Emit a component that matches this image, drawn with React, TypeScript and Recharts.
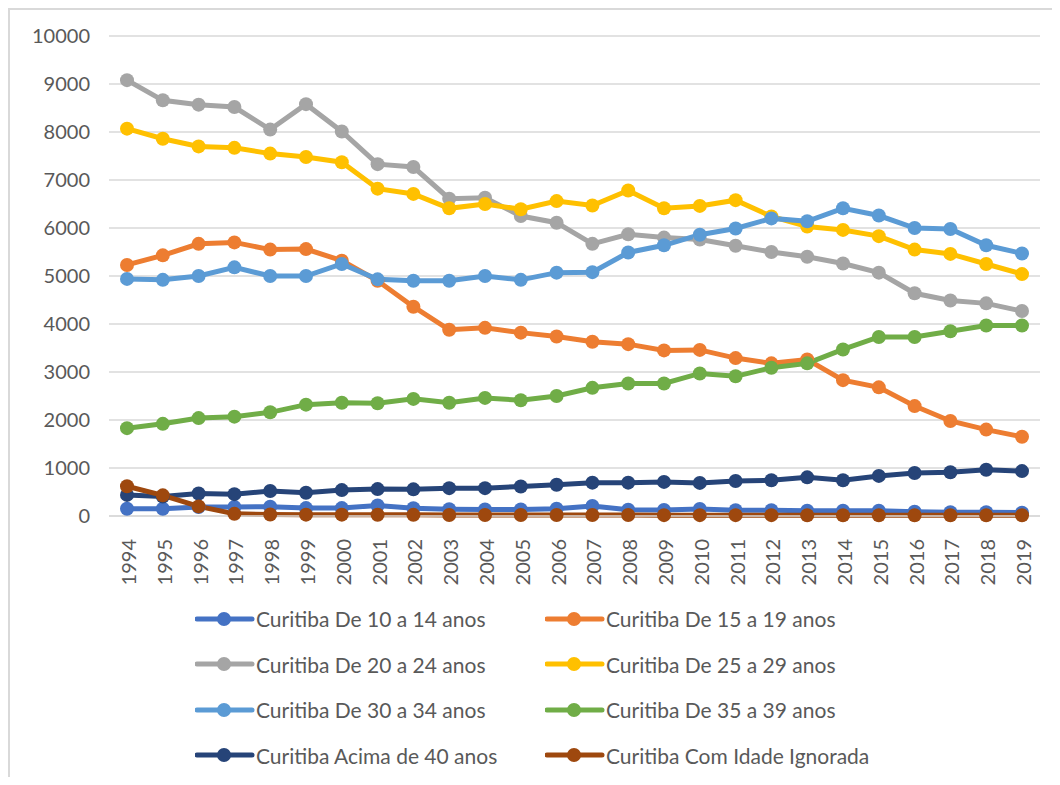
import React from "react";
import { LineChart, Line, XAxis, YAxis, CartesianGrid } from "recharts";

// ─── Data (Curitiba, 1994–2019) ──────────────────────────────────────────────
const years = [
  "1994", "1995", "1996", "1997", "1998", "1999", "2000", "2001", "2002",
  "2003", "2004", "2005", "2006", "2007", "2008", "2009", "2010", "2011",
  "2012", "2013", "2014", "2015", "2016", "2017", "2018", "2019",
];

const de10a14 = [
  150, 150, 185, 190, 195, 165, 165, 220, 160, 140, 135, 135, 150,
  210, 130, 125, 145, 120, 120, 110, 110, 110, 90, 80, 80, 70,
];
const de15a19 = [
  5230, 5430, 5670, 5700, 5550, 5560, 5320, 4900, 4360, 3880, 3920, 3820, 3740,
  3630, 3580, 3450, 3460, 3290, 3180, 3260, 2830, 2680, 2290, 1980, 1800, 1650,
];
const de20a24 = [
  9080, 8660, 8570, 8520, 8050, 8580, 8010, 7330, 7270, 6610, 6630, 6250, 6110,
  5670, 5870, 5800, 5760, 5630, 5500, 5400, 5260, 5070, 4640, 4490, 4430, 4270,
];
const de25a29 = [
  8070, 7860, 7700, 7670, 7550, 7480, 7370, 6820, 6710, 6410, 6500, 6390, 6560,
  6470, 6780, 6410, 6460, 6580, 6240, 6030, 5960, 5830, 5550, 5460, 5250, 5040,
];
const de30a34 = [
  4940, 4920, 5000, 5180, 5000, 5000, 5250, 4930, 4900, 4900, 5000, 4920, 5070,
  5080, 5490, 5640, 5860, 5990, 6200, 6140, 6410, 6260, 6000, 5980, 5640, 5470,
];
const de35a39 = [
  1830, 1920, 2040, 2070, 2160, 2320, 2360, 2350, 2440, 2360, 2460, 2410, 2500,
  2670, 2760, 2760, 2970, 2910, 3090, 3180, 3470, 3730, 3730, 3850, 3970, 3970,
];
const acima40 = [
  440, 405, 470, 455, 520, 485, 540, 560, 555, 580, 580, 615, 650,
  695, 695, 710, 690, 730, 745, 805, 745, 835, 895, 910, 965, 935,
];
const ignorada = [
  620, 430, 200, 45, 30, 28, 28, 26, 24, 22, 22, 20, 20,
  20, 20, 18, 18, 18, 18, 16, 16, 16, 15, 15, 15, 15,
];

const yTicks = [0, 1000, 2000, 3000, 4000, 5000, 6000, 7000, 8000, 9000, 10000];

const SERIES = [
  { key: "a", name: "Curitiba De 10 a 14 anos", values: de10a14, color: "#4472C4" },
  { key: "b", name: "Curitiba De 15 a 19 anos", values: de15a19, color: "#ED7D31" },
  { key: "c", name: "Curitiba De 20 a 24 anos", values: de20a24, color: "#A5A5A5" },
  { key: "d", name: "Curitiba De 25 a 29 anos", values: de25a29, color: "#FFC000" },
  { key: "e", name: "Curitiba De 30 a 34 anos", values: de30a34, color: "#5B9BD5" },
  { key: "f", name: "Curitiba De 35 a 39 anos", values: de35a39, color: "#70AD47" },
  { key: "g", name: "Curitiba Acima de 40 anos", values: acima40, color: "#264478" },
  { key: "h", name: "Curitiba Com Idade Ignorada", values: ignorada, color: "#9E480E" },
];

const data = years.map((year, i) => {
  const row: Record<string, string | number> = { year };
  SERIES.forEach((s) => (row[s.key] = s.values[i]));
  return row;
});

const FONT = "Lato, 'Open Sans', sans-serif";
const TEXT = "#595959";

// rotated year labels (read bottom → top, like Excel)
const YearTick = ({ x, y, payload }: any) => (
  <text
    x={x + 1}
    y={y + 15}
    transform={`rotate(-90, ${x + 1}, ${y + 15})`}
    textAnchor="end"
    dominantBaseline="central"
    fontSize={20}
    fontFamily={FONT}
    fill={TEXT}
  >
    {payload.value}
  </text>
);

function LegendGrid() {
  return (
    <div
      style={{
        position: "absolute",
        left: 185,
        top: 586,
        display: "grid",
        gridTemplateColumns: "350px 350px",
        fontFamily: FONT,
        fontSize: 21,
        color: TEXT,
      }}
    >
      {SERIES.map((s) => (
        <div key={s.key} style={{ display: "flex", alignItems: "center", height: 45.5 }}>
          <svg width={60} height={20} style={{ marginRight: 1 }}>
            <line x1={2} y1={10} x2={57} y2={10} stroke={s.color} strokeWidth={5} strokeLinecap="round" />
            <circle cx={29} cy={10} r={7} fill={s.color} />
          </svg>
          <span>{s.name}</span>
        </div>
      ))}
    </div>
  );
}

export default function App() {
  return (
    <div
      style={{
        position: "relative",
        width: 1044,
        height: 769,
        borderLeft: "2px solid #D9D9D9",
        borderTop: "2px solid #D9D9D9",
        boxSizing: "border-box",
        background: "#fff",
        overflow: "hidden",
      }}
    >
      <LineChart
        width={1040}
        height={590}
        data={data}
        margin={{ top: 26, right: 10, left: 0, bottom: 10 }}
      >
        <CartesianGrid vertical={false} stroke="#D9D9D9" strokeWidth={1.5} />
        <XAxis
          dataKey="year"
          axisLine={{ stroke: "#D9D9D9", strokeWidth: 1.5 }}
          tickLine={false}
          tick={<YearTick />}
          interval={0}
          height={74}
          padding={{ left: 18, right: 18 }}
        />
        <YAxis
          domain={[0, 10000]}
          ticks={yTicks}
          width={99}
          axisLine={false}
          tickLine={false}
          tickSize={0}
          tickMargin={19}
          tick={{ fontSize: 20, fontFamily: FONT, fill: TEXT }}
        />
        {SERIES.map((s) => (
          <Line
            key={s.key}
            dataKey={s.key}
            name={s.name}
            stroke={s.color}
            strokeWidth={5}
            dot={{ r: 7, fill: s.color, stroke: "none" }}
            activeDot={false}
            isAnimationActive={false}
          />
        ))}
      </LineChart>
      <LegendGrid />
    </div>
  );
}
